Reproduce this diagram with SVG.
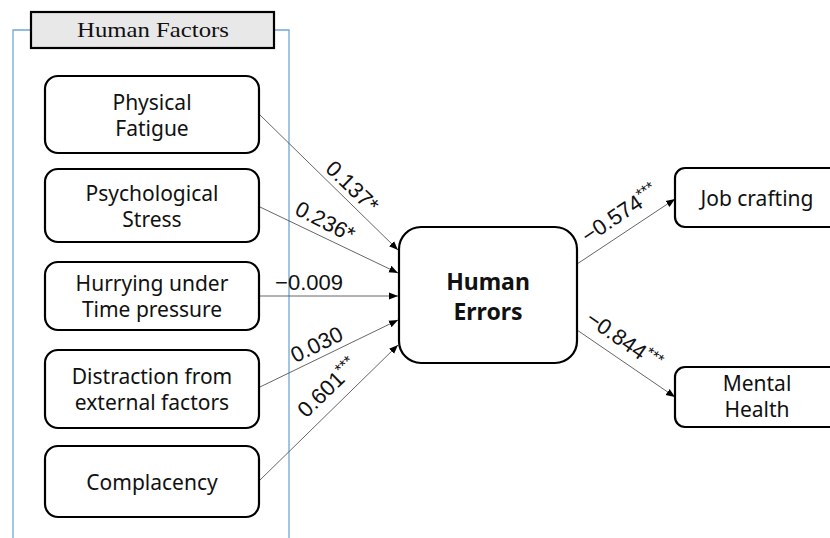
<svg xmlns="http://www.w3.org/2000/svg" width="830" height="538" viewBox="0 0 830 538">
<defs>
<marker id="ah" viewBox="0 0 10 10" refX="10" refY="5" markerWidth="9" markerHeight="9" markerUnits="userSpaceOnUse" orient="auto">
<path d="M0,1 L10,5 L0,9 z" fill="#000"/>
</marker>
<style>
.node{fill:#fff;stroke:#000;stroke-width:2.2}
.nt{font-family:"Noto Sans","Open Sans",sans-serif;font-size:21px;fill:#111;text-anchor:middle}
.bt{font-family:"Noto Sans","Open Sans",sans-serif;font-size:23px;font-weight:bold;fill:#111;text-anchor:middle}
.lbl{font-family:"Liberation Sans",Arial,sans-serif;font-size:22px;fill:#111;text-anchor:middle}
.ln{stroke:#555;stroke-width:0.9;fill:none;marker-end:url(#ah)}
.sup{font-size:16px}
</style>
</defs>
<rect width="830" height="538" fill="#fff"/>
<path d="M13,538 V30 H289 V538" fill="none" stroke="#6fa8d6" stroke-width="1.3"/>
<g id="title">
<rect x="31" y="12" width="243" height="36" fill="#e8e8e8" stroke="#000" stroke-width="2.2"/>
<text x="77" y="37" font-family="Liberation Serif,serif" font-size="21" fill="#111" textLength="152" lengthAdjust="spacingAndGlyphs">Human Factors</text>
</g>
<g id="connectors">
<line class="ln" x1="260" y1="115" x2="398" y2="250"/>
<line class="ln" x1="260" y1="207" x2="398" y2="273"/>
<line class="ln" x1="260" y1="296" x2="398" y2="296"/>
<line class="ln" x1="260" y1="387" x2="398" y2="320"/>
<line class="ln" x1="260" y1="480" x2="398" y2="345"/>
<line class="ln" x1="577" y1="264" x2="675" y2="199"/>
<line class="ln" x1="577" y1="330" x2="675" y2="397"/>
<text class="lbl" transform="translate(352,187) rotate(44)" x="0" y="7">0.137*</text>
<text class="lbl" transform="translate(325,222) rotate(27)" x="0" y="7">0.236*</text>
<text class="lbl" x="309" y="290">−0.009</text>
<text class="lbl" transform="translate(317,345) rotate(-26)" x="0" y="7">0.030</text>
<text class="lbl" transform="translate(328,388) rotate(-44)" x="0" y="7">0.601<tspan class="sup" dy="-7">***</tspan></text>
<text class="lbl" transform="translate(620,214) rotate(-34)" x="0" y="7">−0.574<tspan class="sup" dy="-7">***</tspan></text>
<text class="lbl" transform="translate(624,341) rotate(35)" x="0" y="7">−0.844<tspan class="sup" dy="-7">***</tspan></text>
</g>
<g id="physical-fatigue">
<rect class="node" x="45" y="76" width="214" height="77" rx="13"/>
<text class="nt" x="152" y="110">Physical</text>
<text class="nt" x="152" y="136">Fatigue</text>
</g>
<g id="psychological-stress">
<rect class="node" x="45" y="169" width="214" height="73" rx="13"/>
<text class="nt" x="152" y="201">Psychological</text>
<text class="nt" x="152" y="227">Stress</text>
</g>
<g id="hurrying">
<rect class="node" x="45" y="262" width="214" height="68" rx="13"/>
<text class="nt" x="152" y="291">Hurrying under</text>
<text class="nt" x="152" y="317">Time pressure</text>
</g>
<g id="distraction">
<rect class="node" x="45" y="350" width="214" height="78" rx="13"/>
<text class="nt" x="152" y="384">Distraction from</text>
<text class="nt" x="152" y="410">external factors</text>
</g>
<g id="complacency">
<rect class="node" x="45" y="446" width="214" height="71" rx="13"/>
<text class="nt" x="152" y="490">Complacency</text>
</g>
<g id="human-errors">
<rect class="node" x="399" y="227" width="178" height="136" rx="22"/>
<text class="bt" x="488" y="290">Human</text>
<text class="bt" x="488" y="320">Errors</text>
</g>
<g id="job-crafting">
<rect class="node" x="675" y="168" width="170" height="59" rx="10"/>
<text class="nt" x="757" y="206">Job crafting</text>
</g>
<g id="mental-health">
<rect class="node" x="675" y="367" width="170" height="60" rx="10"/>
<text class="nt" x="757" y="391">Mental</text>
<text class="nt" x="757" y="417">Health</text>
</g>
</svg>
